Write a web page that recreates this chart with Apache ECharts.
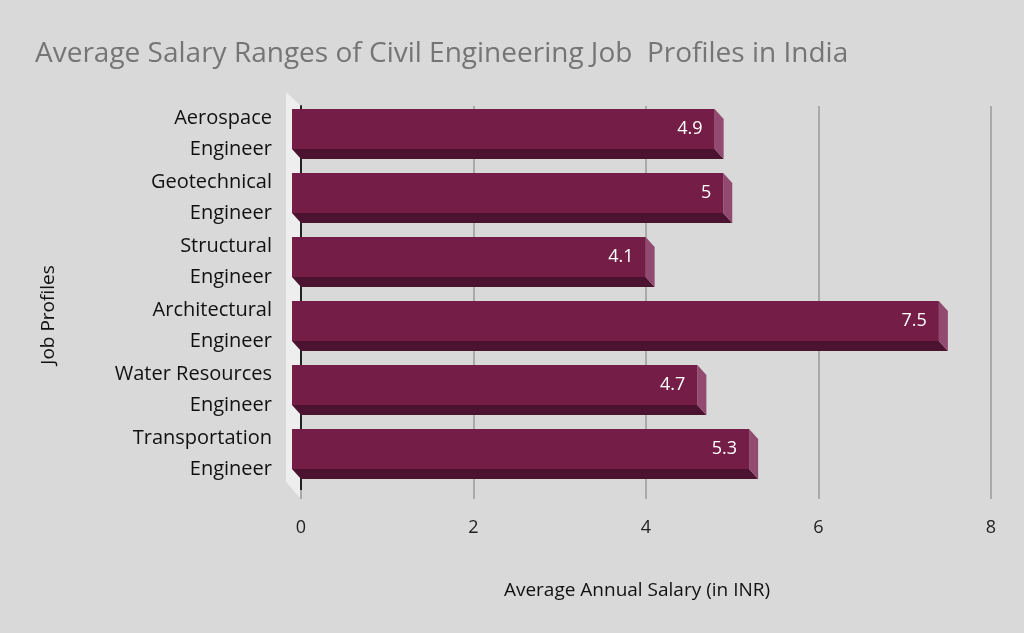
<!DOCTYPE html>
<html><head><meta charset="utf-8">
<script src="https://cdn.jsdelivr.net/npm/echarts@6/dist/echarts.min.js"></script>
<style>html,body{margin:0;padding:0;background:#d9d9d9}#c{width:1024px;height:633px}</style>
</head><body><div id="c"></div>
<script>
const titleText = 'Average Salary Ranges of Civil Engineering Job  Profiles in India';
const categories = ['Aerospace\nEngineer','Geotechnical\nEngineer','Structural\nEngineer','Architectural\nEngineer','Water Resources\nEngineer','Transportation\nEngineer'];
const salaries = [4.9, 5, 4.1, 7.5, 4.7, 5.3];
const xTicks = [0, 2, 4, 6, 8];
const xName = 'Average Annual Salary (in INR)';
const yName = 'Job Profiles';

const FONT = '"Open Sans", "DejaVu Sans", sans-serif';
const chart = echarts.init(document.getElementById('c'));
const DX = 9, DY = 10;
chart.setOption({
  backgroundColor: '#d9d9d9',
  animation: false,
  title: { text: titleText, left: 30, top: 35, textStyle: { color: '#757575', fontSize: 28, fontWeight: 'normal', fontFamily: FONT } },
  grid: { left: 301, right: 33, top: 106, bottom: 143 },
  graphic: [{
    type: 'polygon', z: 0,
    shape: { points: [[286, 92], [301, 106], [301, 499], [286, 482]] },
    style: { fill: '#eeeeee' }
  }],
  xAxis: {
    type: 'value', min: xTicks[0], max: xTicks[xTicks.length - 1], interval: 2,
    name: xName, nameLocation: 'middle', nameGap: 91,
    nameTextStyle: { color: '#111', fontSize: 19, fontFamily: FONT, padding: [0, 18, 0, 0] },
    axisLine: { show: false },
    axisTick: { show: true, inside: false, length: 9, lineStyle: { color: '#aaaaaa', width: 2 } },
    axisLabel: { color: '#222', fontSize: 18, fontFamily: FONT, margin: 29 },
    splitLine: { show: true, lineStyle: { color: '#aaaaaa', width: 2 } }
  },
  yAxis: {
    type: 'category', data: categories, inverse: true,
    name: yName, nameLocation: 'middle', nameGap: 243, nameRotate: 90,
    nameTextStyle: { color: '#111', fontSize: 19, fontFamily: FONT, padding: [0, 34, 0, 0] },
    axisLine: { show: true, lineStyle: { color: '#222', width: 2 } },
    axisTick: { show: false },
    axisLabel: {
      interval: 0, margin: 29,
      formatter: v => v.split('\n').map(s => '{a|' + s + '}').join('\n') + '\n{s|}',
      rich: {
        a: { color: '#111', fontSize: 20, fontFamily: FONT, lineHeight: 31, align: 'right' },
        s: { fontSize: 4, lineHeight: 8 }
      }
    },
    splitLine: { show: false }
  },
  series: [{
    type: 'custom', z: 5,
    data: salaries.map((v, i) => [v, i]),
    encode: { x: 0, y: 1 },
    renderItem: function (params, api) {
      const v = api.value(0), i = api.value(1);
      const p0 = api.coord([0, i]);
      const p1 = api.coord([v, i]);
      const band = api.size([0, 1])[1];
      const h = band * 0.625;
      const x0 = p0[0], x1 = p1[0], cy = p0[1];
      const bTop = cy - h / 2 + 1, bBot = cy + h / 2 + 1;
      const fTop = bTop - DY, fBot = bBot - DY;
      return {
        type: 'group',
        children: [
          { type: 'polygon', shape: { points: [[x0 - DX, fBot], [x1 - DX, fBot], [x1, bBot], [x0, bBot]] }, style: { fill: '#4b1330' } },
          { type: 'polygon', shape: { points: [[x1 - DX, fTop], [x1, bTop], [x1, bBot], [x1 - DX, fBot]] }, style: { fill: '#934a70' } },
          { type: 'rect', shape: { x: x0 - DX, y: fTop, width: x1 - x0, height: fBot - fTop }, style: { fill: '#731d47' } },
          { type: 'text', style: { text: String(v), x: x1 - DX - 12, y: (fTop + fBot) / 2, align: 'right', verticalAlign: 'middle', fill: '#ffffff', fontSize: 18, fontFamily: FONT } }
        ]
      };
    }
  }]
});
</script></body></html>
